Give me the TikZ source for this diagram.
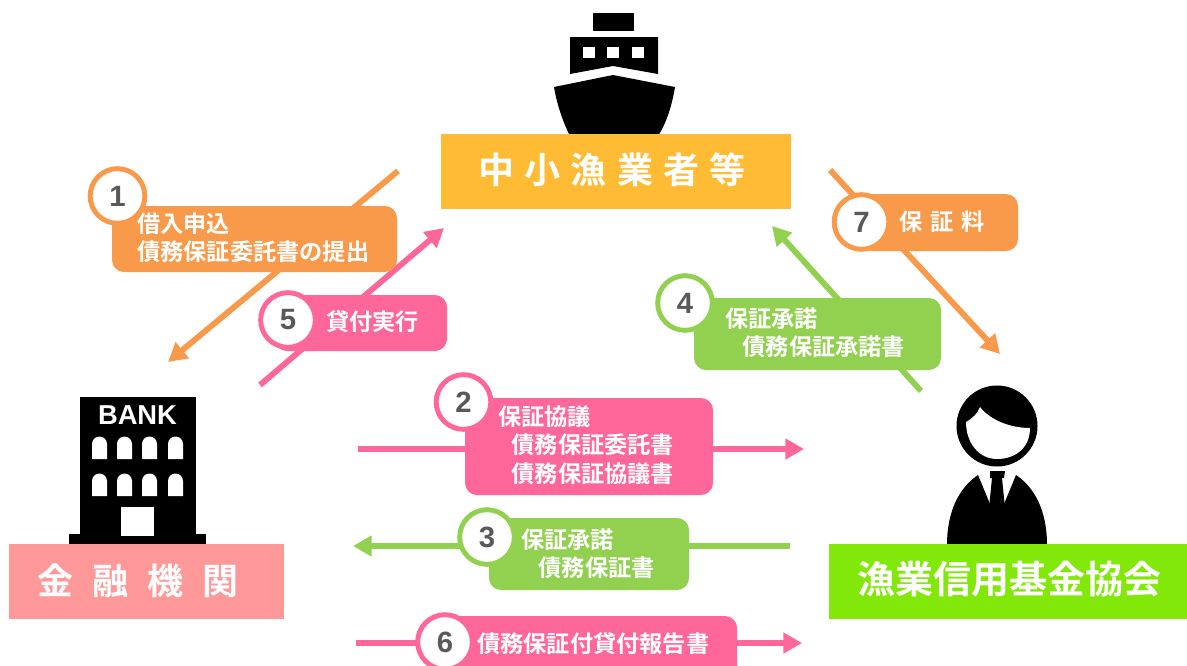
\documentclass[tikz,border=0pt]{standalone}
\usepackage{fontspec}
\setmainfont{Noto Sans CJK JP}[BoldFont={Noto Sans CJK JP Bold}]
\newfontfamily\cjkb{Noto Sans CJK JP Bold}
\newfontfamily\cjkt[LetterSpace=28]{Noto Sans CJK JP Bold}
\newfontfamily\cjkk[LetterSpace=53]{Noto Sans CJK JP Bold}
\newfontfamily\latb{Liberation Sans}
\definecolor{orng}{HTML}{F99A4A}
\definecolor{pnk}{HTML}{FF6699}
\definecolor{grn}{HTML}{92D050}
\definecolor{ylw}{HTML}{FFBB33}
\definecolor{slm}{HTML}{FF9999}
\definecolor{lime}{HTML}{82E80A}
\definecolor{numc}{HTML}{595959}
\usetikzlibrary{arrows.meta}
\tikzset{
 x=0.75pt,y=-0.75pt,
 flow/.style={draw=#1,line width=4.4pt,-{Triangle[length=14pt,width=15pt]}},
 tagbox/.style={fill=#1,rounded corners=9pt},
 tagtext/.style={inner sep=0pt,text=white,font=\cjkb\fontsize{17.4}{21.3}\selectfont,align=left},
 num/.style={circle,draw=#1,fill=white,line width=3.7pt,minimum size=41pt,inner sep=0pt,text=numc,font=\latb\bfseries\fontsize{22}{22}\selectfont},
 lab/.style={fill=#1,minimum height=56pt,inner sep=0pt,text=white},
 ink/.style={fill=black},
 hole/.style={fill=white},
}
\begin{document}
\begin{tikzpicture}
\useasboundingbox (0,0) rectangle (1187,665);
% ship
\fill[ink] (593,13) rectangle (634,31);
\fill[ink] (570,37) -- (658,37) -- (658,74) -- (613,66) -- (570,74) -- cycle;
\foreach \xx in {583,607,632}{\fill[hole] (\xx,46.5) rectangle (\xx+12,58);}
\fill[ink] (554,87) -- (613,75) -- (675,87) .. controls (672,105) and (667,122) .. (658,136) -- (570,136) .. controls (563,122) and (557,105) .. (554,87) -- cycle;
% bank
\fill[ink] (80,397) rectangle (196,534);
\fill[ink] (69,534) rectangle (206,544);
\node[inner sep=0pt,text=white,font=\latb\bfseries\fontsize{20.5}{20}\selectfont] (bankword) at (137.5,415) {BANK};
\foreach \yy in {436,473}{\foreach \xx in {92,117,142,168}{
  \fill[hole] (\xx,\yy+23) -- (\xx,\yy+8) arc[start angle=180,end angle=360,radius=7.5] -- (\xx+15,\yy+23) -- cycle;}}
\fill[hole] (121,507) rectangle (154,536);
% person
\fill[ink] (997,426) circle[radius=40.5];
\fill[hole] (966,422) .. controls (973,418) and (978,413) .. (980,407) .. controls (990,420) and (1010,428) .. (1030,428) .. controls (1030,448) and (1015,459) .. (997,459) .. controls (979,459) and (966,443) .. (966,422) -- cycle;
\fill[ink] (978,475) -- (990,504) -- (990,545) -- (947,545) .. controls (947,510) and (960,487) .. (978,475) -- cycle;
\fill[ink] (1016,475) -- (1004,504) -- (1004,545) -- (1047,545) .. controls (1047,510) and (1034,487) .. (1016,475) -- cycle;
\fill[ink] (990,471) -- (1005,471) -- (1004,478) -- (1002,478) -- (1005,508) -- (1004,545) -- (990,545) -- (989,508) -- (992,478) -- (990,478) -- cycle;
% main labels
\node[lab=ylw,anchor=north west,minimum width=262.5pt] (fisher) at (441,134) {};
\node[font=\cjkt\fontsize{27}{27}\selectfont,text=white,inner sep=0pt] (fishertext) at (612,170) {中小漁業者等};
\node[lab=slm,anchor=north west,minimum width=206pt] (bank) at (9,544) {};
\node[font=\cjkk\fontsize{27}{27}\selectfont,text=white,inner sep=0pt] (banktext) at (138,581) {金融機関};
\node[lab=lime,anchor=north west,minimum width=268.5pt] (assoc) at (829,544) {};
\node[font=\cjkb\fontsize{28.5}{28}\selectfont,text=white,inner sep=0pt] (assoctext) at (1009,579) {漁業信用基金協会};
% connector ends
\coordinate (a1s) at (398,171); \coordinate (a1e) at (168,362);
\coordinate (a5s) at (260,385); \coordinate (a5e) at (444,228);
\coordinate (a7s) at (830,170); \coordinate (a7e) at (1000,354);
\coordinate (a4s) at (921,391); \coordinate (a4e) at (772,226);
\coordinate (a2s) at (358,449); \coordinate (a2e) at (804,449);
\coordinate (a3s) at (790,546); \coordinate (a3e) at (353,546);
\coordinate (a6s) at (356,643); \coordinate (a6e) at (802,643);
\draw[flow=orng] (a1s) -- (a1e);
\draw[flow=pnk] (a5s) -- (a5e);
\draw[flow=orng] (a7s) -- (a7e);
\draw[flow=grn] (a4s) -- (a4e);
\draw[flow=pnk] (a2s) -- (a2e);
\draw[flow=grn] (a3s) -- (a3e);
\draw[flow=pnk] (a6s) -- (a6e);
% tags
\fill[tagbox=orng] (112,206) rectangle (397,272);
\node[tagtext,anchor=north west] (t1) at (137,212.5) {借入申込\\債務保証委託書の提出};
\node[num=orng] (n1) at (117.5,196) {1};
\fill[tagbox=pnk] (275,295) rectangle (447,351);
\node[tagtext,anchor=west] (t5) at (326,322) {貸付実行};
\node[num=pnk] (n5) at (288,320) {5};
\fill[tagbox=orng] (860,194) rectangle (1018,251);
\node[tagtext,anchor=west] (t7) at (899,222) {保\hspace{6pt}証\hspace{6pt}料};
\node[num=orng] (n7) at (861.5,222) {7};
\fill[tagbox=grn] (694,298) rectangle (941,370);
\node[tagtext,anchor=north west] (t4) at (725,307.5) {保証承諾\\\hspace{13pt}債務保証承諾書};
\node[num=grn] (n4) at (685,303) {4};
\fill[tagbox=pnk] (465,398) rectangle (713,495);
\node[tagtext,anchor=north west] (t2) at (498,405.5) {保証協議\\\hspace{10pt}債務保証委託書\\\hspace{10pt}債務保証協議書};
\node[num=pnk] (n2) at (463.5,402) {2};
\fill[tagbox=grn] (489,518) rectangle (689,590);
\node[tagtext,anchor=north west] (t3) at (521,528.5) {保証承諾\\\hspace{13pt}債務保証書};
\node[num=grn] (n3) at (487,537) {3};
\fill[tagbox=pnk] (430,616) rectangle (737,680);
\node[tagtext,anchor=west] (t6) at (477,644) {債務保証付貸付報告書};
\node[num=pnk] (n6) at (445,642) {6};
\end{tikzpicture}
\end{document}
